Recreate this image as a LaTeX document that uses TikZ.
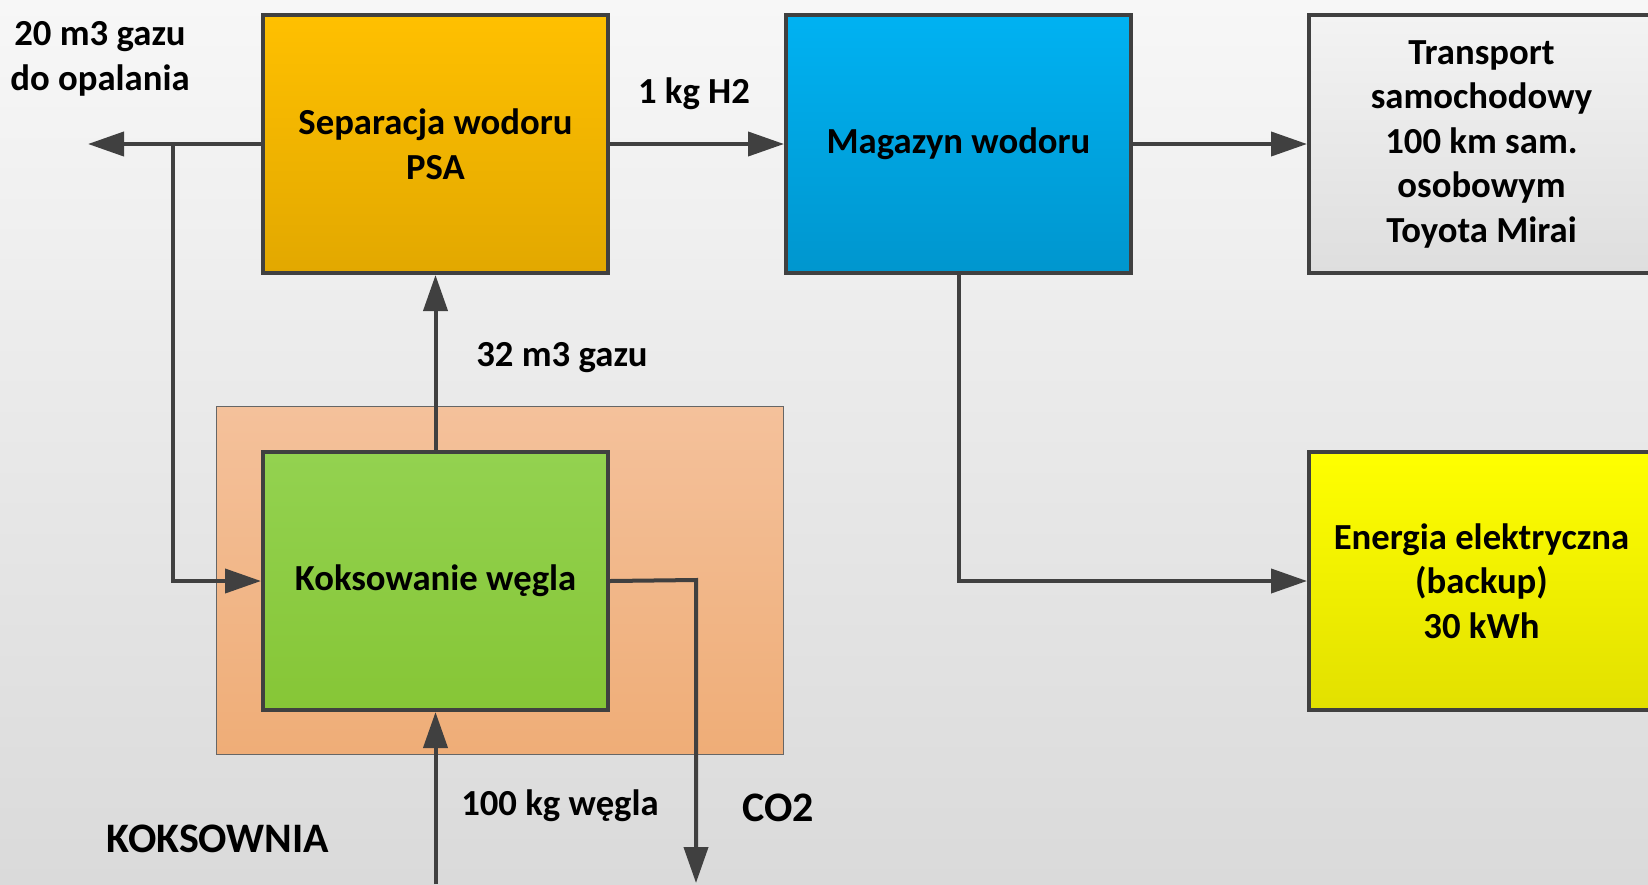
\documentclass[tikz,border=0pt]{standalone}
\usepackage{fontspec}
\setmainfont{Carlito}
\usetikzlibrary{arrows.meta}
\definecolor{lc}{HTML}{404040}
\definecolor{orT}{HTML}{F4C19B}\definecolor{orB}{HTML}{EFAD77}
\definecolor{sepT}{HTML}{FFC000}\definecolor{sepB}{HTML}{E2A800}
\definecolor{magT}{HTML}{00B2F2}\definecolor{magB}{HTML}{0096CE}
\definecolor{trT}{HTML}{F3F3F3}\definecolor{trB}{HTML}{DEDEDE}
\definecolor{enT}{HTML}{FFFF00}\definecolor{enB}{HTML}{E2E000}
\definecolor{grT}{HTML}{93D250}\definecolor{grB}{HTML}{86C636}
\definecolor{bgT}{HTML}{F7F7F7}\definecolor{bgB}{HTML}{DADADA}
\tikzset{
  blk/.style={draw=lc, line width=4pt, minimum width=345pt, minimum height=258pt, inner sep=0pt, align=center,
    font=\fontsize{36.7}{44.5}\selectfont\bfseries},
  conn/.style={draw=lc, line width=4pt, -{Triangle[length=36pt,width=24pt]}},
  lbl/.style={font=\fontsize{36.7}{44.5}\selectfont\bfseries, align=center, inner sep=0pt},
  biglbl/.style={font=\fontsize{42}{50}\selectfont\bfseries, inner sep=0pt}
}
\begin{document}
\begin{tikzpicture}[x=1pt,y=-1pt]
\useasboundingbox (0,0) rectangle (1648,884);
\clip (0,0) rectangle (1648,884);
\shade[top color=bgT, bottom color=bgB] (0,0) rectangle (1648,884);
% frame of the coking plant
\node[draw=gray!80!black, line width=1pt, top color=orT, bottom color=orB, minimum width=567pt, minimum height=348pt, inner sep=0pt] (plant) at (500,580.5) {};
% blocks
\node[blk, top color=sepT, bottom color=sepB] (sep) at (435.5,144) {Separacja wodoru\\PSA};
\node[blk, top color=magT, bottom color=magB] (mag) at (958.5,144) {Magazyn wodoru};
\node[blk, top color=trT, bottom color=trB] (trans) at (1481.5,144) {Transport\\samochodowy\\100 km sam.\\osobowym\\Toyota Mirai};
\node[blk, top color=enT, bottom color=enB] (energ) at (1481.5,581) {Energia elektryczna\\(backup)\\30 kWh};
\node[blk, top color=grT, bottom color=grB] (kok) at (435.5,581) {Koksowanie węgla};
% free ends
\coordinate (gasout) at (88,144);
\coordinate (j1) at (173,144);
\coordinate (cin) at (435.5,884);
\coordinate (co2turn) at (696,580);
\coordinate (co2out) at (696,883);
% connectors
\draw[conn] (sep.west) -- (gasout);
\draw[conn] (j1) |- (kok.west);
\draw[conn] (kok.north) -- (sep.south);
\draw[conn] (cin) -- (kok.south);
\draw[conn] (kok.east) -- (co2turn) -- (co2out);
\draw[conn] (sep.east) -- (mag.west);
\draw[conn] (mag.east) -- (trans.west);
\draw[conn] (mag.south) |- (energ.west);
% labels
\node[lbl] (l1) at (100,59) {20 m3 gazu\\do opalania};
\node[lbl] (l2) at (694,94) {1 kg H2};
\node[lbl] (l3) at (562,358) {32 m3 gazu};
\node[lbl] (l4) at (560,806) {100 kg węgla};
\node[biglbl] (l5) at (778,808) {CO2};
\node[biglbl] (l6) at (218,839) {KOKSOWNIA};
\end{tikzpicture}
\end{document}
